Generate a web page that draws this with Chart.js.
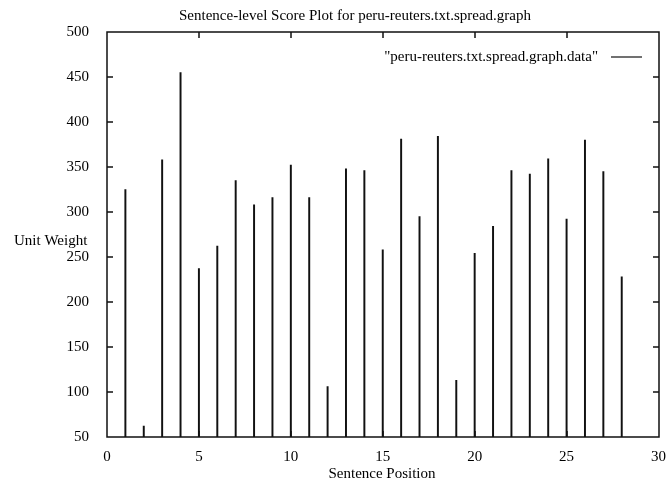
<!DOCTYPE html>
<html>
<head>
<meta charset="utf-8">
<script src="https://cdn.jsdelivr.net/npm/chart.js@4.4.1/dist/chart.umd.min.js"></script>
<style>
  html, body { margin: 0; padding: 0; background: #fff; overflow: hidden; }
  #wrap { width: 669px; height: 485px; position: relative; }
</style>
</head>
<body>
<div id="wrap"><canvas id="scorePlot"></canvas></div>
<script>
// sentence positions and their unit weights
const positions = [1, 2, 3, 4, 5, 6, 7, 8, 9, 10, 11, 12, 13, 14,
                   15, 16, 17, 18, 19, 20, 21, 22, 23, 24, 25, 26, 27, 28];
const weights = [325, 62, 358, 455, 237, 262, 335, 308, 316, 352, 316, 106, 348, 346,
                 258, 381, 295, 384, 113, 254, 284, 346, 342, 359, 292, 380, 345, 228];
const xTicks = [0, 5, 10, 15, 20, 25, 30];
const yTicks = [50, 100, 150, 200, 250, 300, 350, 400, 450, 500];

const titleText = 'Sentence-level Score Plot for peru-reuters.txt.spread.graph';
const seriesName = '"peru-reuters.txt.spread.graph.data"';
const FONT = '"Liberation Serif", "DejaVu Serif", serif';

// gnuplot look: frame on four sides, inward ticks, labels drawn by hand
const gnuplotDecor = {
    id: 'gnuplotDecor',
    afterDraw(chart) {
        const ctx = chart.ctx;
        const xs = chart.scales.x;
        const ys = chart.scales.y;
        const L = Math.round(xs.left), R = Math.round(xs.right);
        const T = Math.round(ys.top), B = Math.round(ys.bottom);
        ctx.save();
        ctx.strokeStyle = '#111';
        ctx.lineWidth = 1.5;
        ctx.beginPath();
        ctx.moveTo(L, T); ctx.lineTo(R, T); ctx.lineTo(R, B); ctx.lineTo(L, B); ctx.closePath();

        const len = 6;
        xTicks.forEach(function (v) {
            const px = Math.round(xs.getPixelForValue(v));
            ctx.moveTo(px, B); ctx.lineTo(px, B - len);
            ctx.moveTo(px, T); ctx.lineTo(px, T + len);
        });
        yTicks.forEach(function (v) {
            const py = Math.round(ys.getPixelForValue(v));
            ctx.moveTo(L, py); ctx.lineTo(L + len, py);
            ctx.moveTo(R, py); ctx.lineTo(R - len, py);
        });
        ctx.stroke();

        // title
        ctx.fillStyle = '#000';
        ctx.font = '15px ' + FONT;
        ctx.textAlign = 'center';
        ctx.textBaseline = 'middle';
        ctx.fillText(titleText, 355, 16);

        // axis titles
        ctx.fillText('Sentence Position', 382, 474);
        ctx.textAlign = 'left';
        ctx.fillText('Unit Weight', 14, 241);

        // legend inside the plot
        ctx.textAlign = 'right';
        ctx.fillText(seriesName, 598, 57);
        ctx.lineWidth = 1.2;
        ctx.beginPath();
        ctx.moveTo(611, 57);
        ctx.lineTo(642, 57);
        ctx.stroke();
        ctx.restore();
    }
};

new Chart(document.getElementById('scorePlot'), {
    type: 'bar',
    data: {
        datasets: [{
            label: seriesName,
            data: positions.map(function (p, i) { return { x: p, y: weights[i] }; }),
            base: 50,
            backgroundColor: '#111',
            borderWidth: 0,
            barThickness: 1.3
        }]
    },
    options: {
        responsive: true,
        maintainAspectRatio: false,
        animation: false,
        layout: { padding: { top: 32, right: 3, left: 0, bottom: 0 } },
        plugins: {
            legend: { display: false },
            title: { display: false },
            tooltip: { enabled: false }
        },
        scales: {
            x: {
                type: 'linear',
                min: 0,
                max: 30,
                offset: false,
                grid: { display: false },
                border: { display: false },
                afterBuildTicks: function (s) { s.ticks = xTicks.map(function (v) { return { value: v }; }); },
                afterFit: function (s) { s.height = 48; },
                ticks: {
                    color: '#000',
                    font: { family: FONT, size: 15 },
                    padding: 3,
                    maxRotation: 0
                }
            },
            y: {
                min: 50,
                max: 500,
                grid: { display: false },
                border: { display: false },
                afterBuildTicks: function (s) { s.ticks = yTicks.map(function (v) { return { value: v }; }); },
                afterFit: function (s) { s.width = 107; },
                ticks: {
                    color: '#000',
                    font: { family: FONT, size: 15 },
                    padding: 10
                }
            }
        }
    },
    plugins: [gnuplotDecor]
});
</script>
</body>
</html>
